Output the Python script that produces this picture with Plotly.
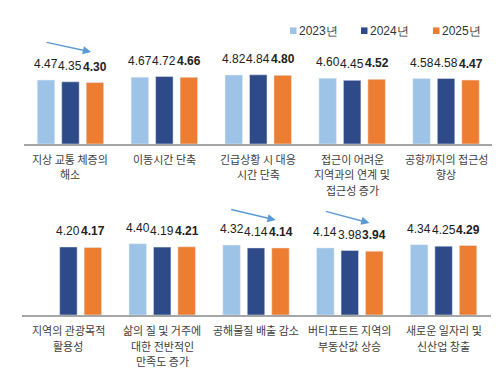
import plotly.graph_objects as go
from plotly.subplots import make_subplots

years = ["2023년", "2024년", "2025년"]
colors = ["#9dc3e6", "#2e4a88", "#ed7d31"]

cats_top = ["지상 교통 체증의<br>해소", "이동시간 단축", "긴급상황 시 대응<br>시간 단축",
            "접근이 어려운<br>지역과의 연계 및<br>접근성 증가", "공항까지의 접근성<br>향상"]
top_2023 = [4.47, 4.67, 4.82, 4.60, 4.58]
top_2024 = [4.35, 4.72, 4.84, 4.45, 4.58]
top_2025 = [4.30, 4.66, 4.80, 4.52, 4.47]

cats_bot = ["지역의 관광목적<br>활용성", "삶의 질 및 거주에<br>대한 전반적인<br>만족도 증가", "공해물질 배출 감소",
            "버티포트트 지역의<br>부동산값 상승", "새로운 일자리 및<br>신산업 창출"]
bot_2023 = [None, 4.40, 4.32, 4.14, 4.34]
bot_2024 = [4.20, 4.19, 4.14, 3.98, 4.25]
bot_2025 = [4.17, 4.21, 4.14, 3.94, 4.29]

# arrows: (row, category index, tail dx, tail y, head dx, head y)
arrows = [(1, 0, -0.27, 7.13, 0.22, 6.43),
          (2, 2, -0.28, 6.54, 0.21, 5.86),
          (2, 3, -0.27, 6.42, 0.21, 5.68)]

num_font = "Liberation Sans, Arial, sans-serif"
kr_font = "Noto Sans CJK KR, sans-serif"

W, H = 500, 369
fig = make_subplots(rows=2, cols=1)

# (row, categories, series, axis-line pixel y)
rows = [(1, cats_top, [top_2023, top_2024, top_2025], 136),
        (2, cats_bot, [bot_2023, bot_2024, bot_2025], 307)]

offsets = [-24.5, 0, 24.5]
annotations = []
shapes = []
for r, cats, series, axis_px in rows:
    xr = "x" if r == 1 else "x2"
    yr = "y" if r == 1 else "y2"
    for i, vals in enumerate(series):
        fig.add_trace(go.Bar(x=list(range(len(cats))), y=vals, name=years[i],
                             marker_color=colors[i], showlegend=False), row=r, col=1)
        for j, v in enumerate(vals):
            if v is None:
                continue
            txt = f"{v:.2f}"
            if i == 2:
                txt = f"<b>{txt}</b>"
            annotations.append(dict(x=j, y=v, xref=xr, yref=yr, text=txt, showarrow=False,
                                    xshift=offsets[i], yanchor="bottom", yshift=7,
                                    font=dict(family=num_font, size=12, color="#222222")))
    # category labels, one line per annotation (about 16 px line pitch as in the reference)
    for j, c in enumerate(cats):
        for k, line in enumerate(c.split("<br>")):
            annotations.append(dict(x=j, xref=xr, y=1 - (axis_px + 15 + 15.5 * k) / H,
                                    yref="paper", text=line, showarrow=False, borderpad=0,
                                    xanchor="center", yanchor="middle",
                                    font=dict(family=kr_font, size=11, color="#404040")))

for r, ci, tdx, ty, hdx, hy in arrows:
    xr = "x" if r == 1 else "x2"
    yr = "y" if r == 1 else "y2"
    annotations.append(dict(x=ci + hdx, y=hy, ax=ci + tdx, ay=ty, xref=xr, yref=yr,
                            axref=xr, ayref=yr, showarrow=True, arrowhead=2, arrowsize=1.1,
                            arrowwidth=1.5, arrowcolor="#5b9bd5", text=""))

# legend (custom, compact like the reference)
leg_x = [282, 353, 425]
leg_y = 22.7
for i in range(3):
    shapes.append(dict(type="rect", xref="paper", yref="paper",
                       x0=leg_x[i] / W, x1=(leg_x[i] + 6.5) / W,
                       y0=1 - (leg_y + 3.3) / H, y1=1 - (leg_y - 3.3) / H,
                       fillcolor=colors[i], line=dict(width=0)))
    annotations.append(dict(x=(leg_x[i] + 7) / W, y=1 - leg_y / H, xref="paper", yref="paper",
                            text=years[i], showarrow=False, xanchor="left", yanchor="middle",
                            font=dict(family=num_font, size=12, color="#333333")))

fig.update_layout(
    width=W, height=H, margin=dict(l=0, r=0, t=0, b=0),
    paper_bgcolor="white", plot_bgcolor="white",
    barmode="group", bargap=0.218, bargroupgap=0.286,
    annotations=annotations, shapes=shapes, showlegend=False,
)

fig.update_xaxes(domain=[0.031, 0.97], row=1, col=1)
fig.update_xaxes(domain=[0.027, 0.965], row=2, col=1)
fig.update_yaxes(domain=[1 - 136 / H, 1 - 29 / H], range=[0, 107 / 14.3], row=1, col=1)
fig.update_yaxes(domain=[1 - 307 / H, 1 - 194 / H], range=[0, 113 / 16.2], row=2, col=1)

for r, cats, _, _ in rows:
    fig.update_xaxes(range=[-0.5, len(cats) - 0.5], automargin=False, showticklabels=False,
                     showline=True, linecolor="#a6a6a6", linewidth=1.5, showgrid=False,
                     ticks="", row=r, col=1)
fig.update_yaxes(visible=False, showgrid=False)

fig.write_html("out.html")
